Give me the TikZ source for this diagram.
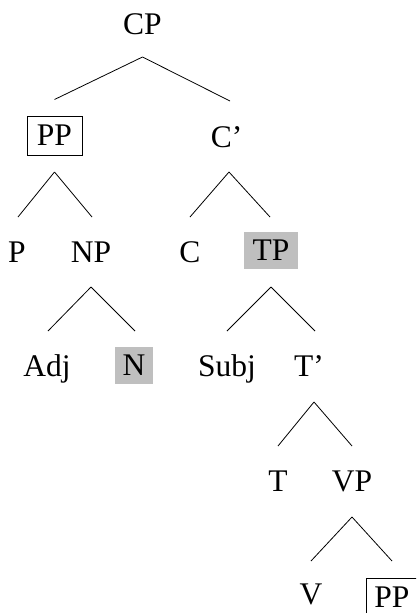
\documentclass[tikz,border=0pt]{standalone}
\usepackage{fontspec}
\setmainfont{Liberation Serif}
\begin{document}
\begin{tikzpicture}[x=1pt,y=-1pt,
  lbl/.style={inner sep=0pt,font=\fontsize{31.5}{34}\selectfont,text height=20.8pt,text depth=0pt},
  boxed/.style={lbl,draw,line width=0.8pt,minimum width=55pt,minimum height=39pt},
  shaded/.style={lbl,fill=black!25,minimum height=37pt},
  frame/.style={line width=0.8pt},
  br/.style={line width=0.8pt}]
\useasboundingbox (0,0) rectangle (416,613);
\clip (0,0) rectangle (416,613);
% nodes
\node[lbl] (CP) at (142.5,24) {CP};
\node[boxed] (PP) at (54.5,135.5) {PP};
\node[lbl] (Cb) at (226.5,137) {C’};
\node[lbl] (P) at (17,252) {P};
\node[lbl] (NP) at (91,252) {NP};
\node[lbl] (C) at (190,252) {C};
\node[shaded,minimum width=54pt] (TP) at (271,250.5) {TP};
\node[lbl] (Adj) at (47,366) {Adj};
\node[shaded,minimum width=38pt] (N) at (134,365.5) {N};
\node[lbl] (Subj) at (227,366) {Subj};
\node[lbl] (Tb) at (309,366) {T’};
\node[lbl] (T) at (278,481) {T};
\node[lbl] (VP) at (352,481) {VP};
\node[lbl] (V) at (311,594) {V};
\node[lbl] (PPb) at (392,597.5) {PP};
\draw[frame] ([xshift=-26pt,yshift=19.5pt]PPb.center) rectangle ([xshift=29pt,yshift=-19.5pt]PPb.center);
% branches
\draw[br] ([yshift=-33pt]CP.center) -- ([yshift=36pt]PP.center);
\draw[br] ([yshift=-33pt]CP.center) -- ([xshift=3.5pt,yshift=36pt]Cb.center);
\draw[br] ([yshift=-36.5pt]PP.center) -- ([xshift=1pt,yshift=35pt]P.center);
\draw[br] ([yshift=-36.5pt]PP.center) -- ([xshift=1pt,yshift=35pt]NP.center);
\draw[br] ([xshift=2.5pt,yshift=-35pt]Cb.center) -- ([yshift=35pt]C.center);
\draw[br] ([xshift=2.5pt,yshift=-35pt]Cb.center) -- ([xshift=-1pt,yshift=33.5pt]TP.center);
\draw[br] ([yshift=-35pt]NP.center) -- ([xshift=1pt,yshift=35pt]Adj.center);
\draw[br] ([yshift=-35pt]NP.center) -- ([xshift=1pt,yshift=34.5pt]N.center);
\draw[br] ([yshift=-36.5pt]TP.center) -- ([yshift=35pt]Subj.center);
\draw[br] ([yshift=-36.5pt]TP.center) -- ([xshift=6pt,yshift=35pt]Tb.center);
\draw[br] ([xshift=5pt,yshift=-36pt]Tb.center) -- ([yshift=35pt]T.center);
\draw[br] ([xshift=5pt,yshift=-36pt]Tb.center) -- ([yshift=35pt]VP.center);
\draw[br] ([yshift=-36pt]VP.center) -- ([yshift=33pt]V.center);
\draw[br] ([yshift=-36pt]VP.center) -- ([yshift=36.5pt]PPb.center);
\end{tikzpicture}
\end{document}
